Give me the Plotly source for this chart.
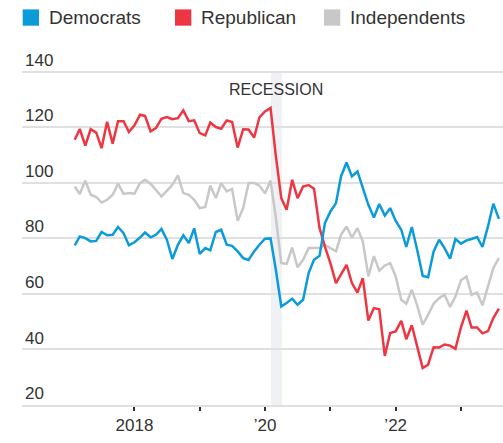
import pandas as pd
import plotly.graph_objects as go

months = pd.date_range("2017-02-01", "2023-08-01", freq="MS")

democrats = [
    77.5, 80.7, 80.1, 78.9, 79.1, 82.3, 81.1, 81.3, 84.1, 81.9, 77.5,
    78.6, 80.3, 82.1, 80.4, 81.3, 83.4, 79.5, 72.6, 77.7, 81.1, 78.3, 83.6,
    74.4, 76.5, 75.7, 82.3, 83.1, 77.7, 77.3, 75.3, 72.9, 72.2, 75.3, 77.7,
    79.9, 80.0, 69.0, 55.5, 56.7, 58.3, 56.1, 57.9, 67.5, 72.3, 73.7, 85.5,
    89.7, 92.7, 102.3, 107.3, 102.3, 104.1, 98.1, 92.1, 87.5, 92.4, 88.2, 90.9,
    86.3, 83.1, 76.9, 84.1, 75.9, 66.5, 66.0, 75.3, 79.5, 76.5, 72.7, 79.8,
    78.1, 79.3, 79.8, 80.5, 76.9, 84.3, 92.5, 87.0,
]
republican = [
    115.5, 119.4, 113.4, 119.3, 118.1, 112.5, 122.0, 114.1, 122.2, 122.2, 118.3,
    120.7, 124.5, 124.1, 118.5, 119.7, 123.1, 123.7, 122.9, 123.3, 126.1, 122.2, 122.5,
    117.9, 117.1, 121.7, 120.1, 119.5, 122.5, 121.9, 112.7, 119.3, 119.2, 116.3, 123.6,
    125.7, 127.0, 110.0, 94.5, 90.3, 101.1, 94.5, 98.7, 99.2, 97.9, 83.7, 77.0,
    71.0, 63.9, 67.1, 70.5, 63.9, 60.5, 65.7, 50.4, 54.9, 54.5, 37.7, 45.9,
    46.5, 50.3, 43.7, 48.7, 41.1, 33.3, 34.5, 40.8, 40.7, 41.8, 41.4, 40.2,
    48.0, 54.0, 47.9, 47.9, 45.8, 46.6, 51.3, 54.7,
]
independents = [
    98.7, 96.0, 100.8, 95.7, 94.9, 92.9, 93.9, 95.7, 99.7, 96.0, 96.3,
    96.1, 99.9, 101.1, 99.7, 97.5, 95.1, 97.1, 99.3, 102.7, 96.3, 95.7, 93.9,
    90.9, 91.3, 99.0, 94.5, 99.9, 96.9, 97.8, 86.3, 90.9, 99.9, 99.9, 99.0,
    96.2, 100.8, 87.8, 71.1, 70.8, 76.7, 69.6, 72.3, 76.5, 76.5, 76.5, 77.6,
    76.5, 75.3, 81.3, 84.3, 80.3, 83.7, 78.9, 66.3, 73.6, 68.4, 70.2, 71.1,
    66.3, 57.9, 56.5, 61.5, 55.9, 48.9, 52.5, 56.5, 58.5, 59.7, 55.3, 59.1,
    64.9, 66.3, 59.7, 60.5, 55.9, 62.7, 69.3, 72.9,
]

x_tickvals = ["2018-01-01", "2019-01-01", "2020-01-01", "2021-01-01", "2022-01-01", "2023-01-01"]
x_ticktext = ["2018", "", "\u201920", "", "\u201922", ""]
y_tickvals = [20, 40, 60, 80, 100, 120, 140]

series = [
    ("Independents", independents, "#c8c8c8"),
    ("Republican", republican, "#ee3642"),
    ("Democrats", democrats, "#0a9bd8"),
]

W, H = 503, 443
ML, MR, MT, MB = 22, 0, 45, 38
PW, PH = W - ML - MR, H - MT - MB
PX_PER_UNIT = 2.777

def px_x(p):
    return (p - ML) / PW

def px_y(p):
    return (H - MB - p) / PH

fig = go.Figure()
for name, vals, col in series:
    fig.add_trace(go.Scatter(x=months, y=vals, mode="lines", name=name,
                             line=dict(color=col, width=2.5), showlegend=False,
                             hoverinfo="skip"))

# recession band
fig.add_shape(type="rect", xref="x", yref="y", x0="2020-02-03", x1="2020-04-05",
              y0=20, y1=140, fillcolor="#eff1f4", line=dict(width=0), layer="below")
fig.add_annotation(x="2020-03-05", y=px_y(89.5), xref="x", yref="paper", text="RECESSION",
                   showarrow=False, xanchor="center", yanchor="middle",
                   font=dict(size=16, color="#333333"))

# legend (manual)
legend_items = [("Democrats", "#0a9bd8", 22.7, 48), ("Republican", "#ee3642", 175, 200),
                ("Independents", "#c8c8c8", 324, 349)]
for label, col, sx, tx in legend_items:
    fig.add_shape(type="rect", xref="paper", yref="paper",
                  x0=px_x(sx), x1=px_x(sx + 16.3), y0=px_y(25.7), y1=px_y(9.4),
                  fillcolor=col, line=dict(width=0))
    fig.add_annotation(x=px_x(tx - 1), y=px_y(17.5), xref="paper", yref="paper",
                       text=label, showarrow=False, xanchor="left", yanchor="middle",
                       font=dict(size=19, color="#333333"))

fig.update_layout(
    width=W, height=H,
    margin=dict(l=ML, r=MR, t=MT, b=MB, pad=0),
    paper_bgcolor="white", plot_bgcolor="white",
    font=dict(family="Liberation Sans, Arial, sans-serif", color="#333333"),
    showlegend=False,
    xaxis=dict(
        type="date", range=["2016-04-12", "2023-08-24"],
        tickvals=x_tickvals, ticktext=x_ticktext,
        showgrid=False, zeroline=False,
        showline=True, linecolor="#e0e0e0", linewidth=2,
        ticks="outside", ticklen=4, tickwidth=1.5, tickcolor="#333333",
        tickfont=dict(size=17, color="#333333"),
    ),
    yaxis=dict(
        range=[20, 20 + PH / PX_PER_UNIT], tickvals=y_tickvals,
        showgrid=True, gridcolor="#e0e0e0", gridwidth=2,
        zeroline=False, showline=False, ticks="",
        ticklabelposition="inside top",
        tickfont=dict(size=17, color="#333333"),
    ),
)

fig.write_html("out.html")
